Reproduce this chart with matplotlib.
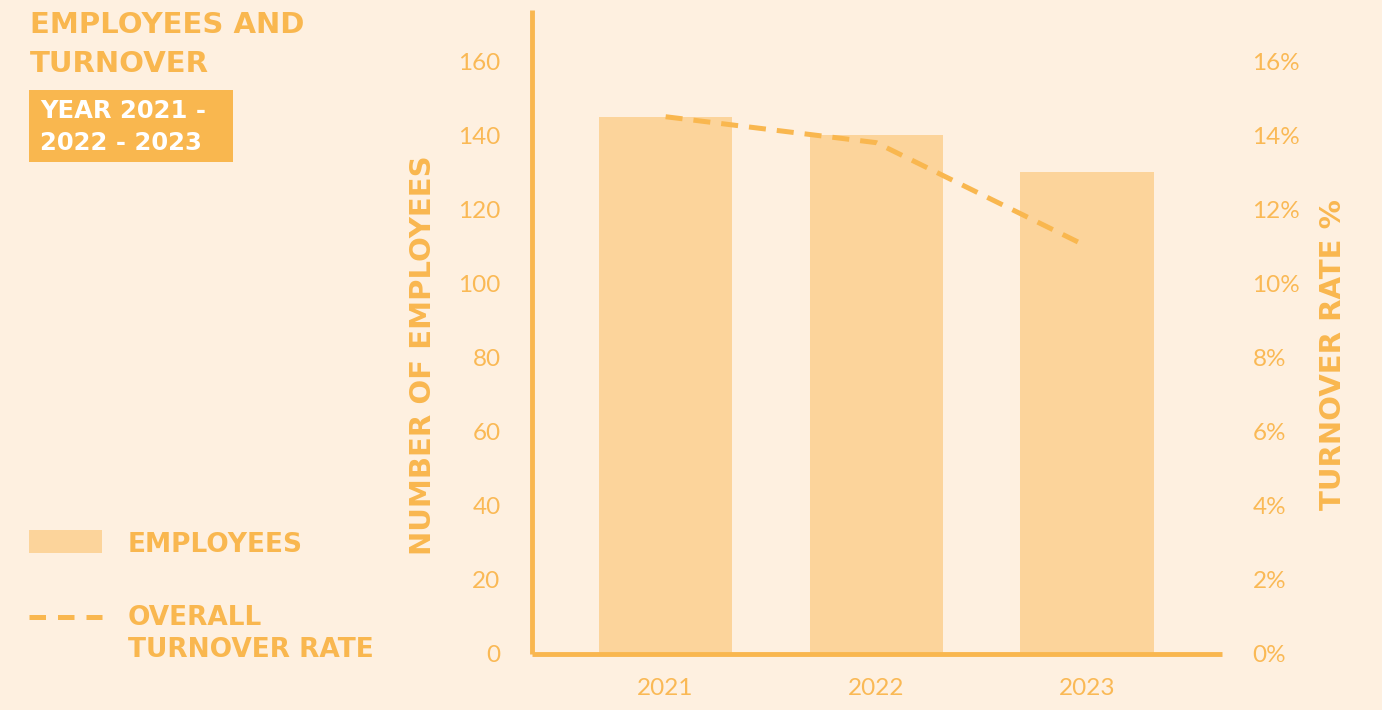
#! /usr/bin/env python
# coding: utf-8

import matplotlib
matplotlib.use("Agg")
from matplotlib import pyplot as plt
from matplotlib.patches import Rectangle
from matplotlib.lines import Line2D
from matplotlib.ticker import FuncFormatter

years = ["2021", "2022", "2023"]
employees = [145, 140, 130]
turnover_rate = [14.5, 13.8, 11.0]  # %
left_ticks = [0, 20, 40, 60, 80, 100, 120, 140, 160]
right_ticks = [0, 2, 4, 6, 8, 10, 12, 14, 16]

bg = "#FEF0E0"
orange = "#F9B74F"
bar_color = "#FCD49B"
tick_color = "#FAB955"

plt.rcParams['font.family'] = ['DejaVu Sans']
plt.rcParams['axes.linewidth'] = 3.5

fig = plt.figure(figsize=(13.82, 7.10), dpi=100, facecolor=bg)
ax = fig.add_axes([0.3853, 0.0789, 0.8842 - 0.3853, 0.9859 - 0.0789])
ax.set_facecolor("none")

x = list(range(len(years)))
ax.bar(x, employees, width=0.632, color=bar_color, zorder=1)
ax.set_xlim(-0.632, 2.641)
ax.set_ylim(0, 173.8)
ax.set_yticks(left_ticks)
ax.set_xticks(x)
ax.set_xticklabels(years)

for s in ["top", "right"]:
    ax.spines[s].set_visible(False)
for s in ["left", "bottom"]:
    ax.spines[s].set_color(orange)
    ax.spines[s].set_capstyle("butt")

tick_font = dict(family=["Lato", "DejaVu Sans"], size=17.5, weight="normal")
ax.tick_params(axis="y", length=0, pad=23, colors=tick_color)
ax.tick_params(axis="x", length=0, pad=17, colors=tick_color)
for lab in ax.get_yticklabels() + ax.get_xticklabels():
    lab.set_fontproperties(tick_font)

# turnover rate on the right axis
ax2 = ax.twinx()
ax2.set_ylim(0, 17.38)
ax2.plot(x, turnover_rate, color=orange, lw=3.6, dashes=(3.4, 2.2),
         solid_capstyle="butt", dash_capstyle="butt", zorder=3)
ax2.set_yticks(right_ticks)
ax2.yaxis.set_major_formatter(FuncFormatter(lambda v, p: "%d%%" % v))
ax2.tick_params(axis="y", length=0, pad=22, colors=tick_color)
for lab in ax2.get_yticklabels():
    lab.set_fontproperties(tick_font)
for s in ax2.spines.values():
    s.set_visible(False)

# axis titles
fig.text(0.3061, 0.4993, "NUMBER OF EMPLOYEES", rotation=90, ha="center", va="center",
         color=orange, fontsize=21, fontweight="bold")
fig.text(0.9645, 0.5, "TURNOVER RATE %", rotation=90, ha="center", va="center",
         color=orange, fontsize=21, fontweight="bold")

# header
fig.text(0.0217, 0.9535, "EMPLOYEES AND", color=orange, fontsize=21,
         fontweight="bold", va="baseline")
fig.text(0.0217, 0.8986, "TURNOVER", color=orange, fontsize=21,
         fontweight="bold", va="baseline")
fig.add_artist(Rectangle((0.02098, 0.7718), 0.1476, 0.1014,
                         transform=fig.transFigure, color=orange, lw=0))
fig.text(0.0289, 0.8338, "YEAR 2021 -", color="white", fontsize=17.5,
         fontweight="bold", va="baseline")
fig.text(0.0289, 0.7887, "2022 - 2023", color="white", fontsize=17.5,
         fontweight="bold", va="baseline")

# legend
fig.add_artist(Rectangle((0.02098, 0.2211), 0.0528, 0.0324,
                         transform=fig.transFigure, color=bar_color, lw=0))
fig.text(0.0926, 0.2225, "EMPLOYEES", color=orange, fontsize=19,
         fontweight="bold", va="baseline")
fig.add_artist(Line2D([0.02098, 0.0738], [0.131, 0.131], transform=fig.transFigure,
                      color=orange, lw=3.6, dashes=(3.3, 2.4), dash_capstyle="butt"))
fig.text(0.0926, 0.1197, "OVERALL", color=orange, fontsize=19,
         fontweight="bold", va="baseline")
fig.text(0.0926, 0.0746, "TURNOVER RATE", color=orange, fontsize=19,
         fontweight="bold", va="baseline")

plt.savefig("out.png", dpi=100, facecolor=bg)
